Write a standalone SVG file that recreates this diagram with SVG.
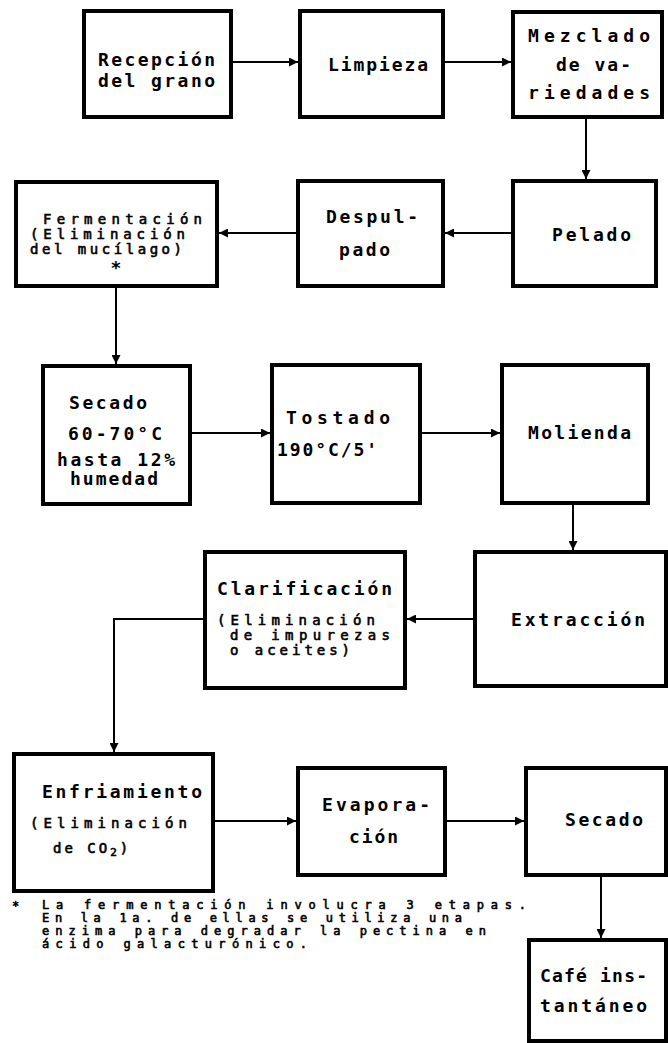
<svg xmlns="http://www.w3.org/2000/svg" width="668" height="1043" viewBox="0 0 668 1043">
  <style>
    .box { fill: #fff; stroke: #000; stroke-width: 4; }
    .wire { fill: none; stroke: #000; stroke-width: 2; }
    .lbl { font-family: "DejaVu Sans Mono", "Liberation Mono", monospace; font-size: 18px; font-weight: bold; fill: #000; }
    .sub { font-family: "DejaVu Sans Mono", "Liberation Mono", monospace; font-size: 14px; font-weight: normal; fill: #000; stroke: #000; stroke-width: 0.6; }
    .note { font-family: "DejaVu Sans Mono", "Liberation Mono", monospace; font-size: 12px; font-weight: normal; fill: #000; stroke: #000; stroke-width: 0.6; }
  </style>
  <defs>
    <marker id="head" viewBox="0 0 10 10" refX="10" refY="5" markerWidth="10" markerHeight="9" markerUnits="userSpaceOnUse" orient="auto">
      <path d="M0,0 L10,5 L0,10 z" fill="#000"/>
    </marker>
  </defs>
  <rect width="668" height="1043" fill="#fff"/>

  <!-- connectors -->
  <g id="connectors">
    <line class="wire" x1="231" y1="62" x2="298" y2="62" marker-end="url(#head)"/>
    <line class="wire" x1="443" y1="62" x2="511" y2="62" marker-end="url(#head)"/>
    <line class="wire" x1="586" y1="117" x2="586" y2="179" marker-end="url(#head)"/>
    <line class="wire" x1="513" y1="233" x2="445" y2="233" marker-end="url(#head)"/>
    <line class="wire" x1="298" y1="233" x2="219" y2="233" marker-end="url(#head)"/>
    <line class="wire" x1="116" y1="286" x2="116" y2="364" marker-end="url(#head)"/>
    <line class="wire" x1="190" y1="433" x2="270" y2="433" marker-end="url(#head)"/>
    <line class="wire" x1="420" y1="433" x2="500" y2="433" marker-end="url(#head)"/>
    <line class="wire" x1="573" y1="503" x2="573" y2="550" marker-end="url(#head)"/>
    <line class="wire" x1="475" y1="619" x2="407" y2="619" marker-end="url(#head)"/>
    <polyline class="wire" points="205,619 114,619 114,752" marker-end="url(#head)"/>
    <line class="wire" x1="213" y1="821" x2="296" y2="821" marker-end="url(#head)"/>
    <line class="wire" x1="445" y1="821" x2="524" y2="821" marker-end="url(#head)"/>
    <line class="wire" x1="601" y1="875" x2="601" y2="938" marker-end="url(#head)"/>
  </g>

  <!-- process steps -->
  <g id="recepcion">
    <rect class="box" x="84" y="11" width="147" height="106"/>
    <text class="lbl" x="98" y="66" textLength="117" lengthAdjust="spacing">Recepción</text>
    <text class="lbl" x="98" y="87" textLength="117" lengthAdjust="spacing">del grano</text>
  </g>
  <g id="limpieza">
    <rect class="box" x="300" y="11" width="143" height="106"/>
    <text class="lbl" x="328" y="71" textLength="100" lengthAdjust="spacing">Limpieza</text>
  </g>
  <g id="mezclado">
    <rect class="box" x="513" y="12" width="149" height="105"/>
    <text class="lbl" x="528" y="42" textLength="122" lengthAdjust="spacing">Mezclado</text>
    <text class="lbl" x="556" y="71" textLength="75" lengthAdjust="spacing">de va-</text>
    <text class="lbl" x="528" y="99" textLength="122" lengthAdjust="spacing">riedades</text>
  </g>
  <g id="pelado">
    <rect class="box" x="513" y="181" width="143" height="105"/>
    <text class="lbl" x="552" y="241" textLength="79" lengthAdjust="spacing">Pelado</text>
  </g>
  <g id="despulpado">
    <rect class="box" x="298" y="181" width="145" height="105"/>
    <text class="lbl" x="326" y="223" textLength="92" lengthAdjust="spacing">Despul-</text>
    <text class="lbl" x="339" y="256" textLength="51" lengthAdjust="spacing">pado</text>
  </g>
  <g id="fermentacion">
    <rect class="box" x="16" y="182" width="201" height="104"/>
    <text class="sub" x="43" y="224" textLength="159" lengthAdjust="spacing" font-weight="bold" stroke-width="0">Fermentación</text>
    <text class="sub" x="30" y="239" textLength="155" lengthAdjust="spacing">(Eliminación</text>
    <text class="sub" x="30" y="254" textLength="152" lengthAdjust="spacing">del mucílago)</text>
    <text class="lbl" x="116" y="274" text-anchor="middle">*</text>
  </g>
  <g id="secado-grano">
    <rect class="box" x="43" y="366" width="147" height="138"/>
    <text class="lbl" x="69" y="409" textLength="78" lengthAdjust="spacing">Secado</text>
    <text class="lbl" x="68" y="440" textLength="94" lengthAdjust="spacing">60-70°C</text>
    <text class="lbl" x="57" y="466" font-size="15" textLength="118" lengthAdjust="spacing">hasta 12%</text>
    <text class="lbl" x="70" y="485" font-size="15" textLength="88" lengthAdjust="spacing">humedad</text>
  </g>
  <g id="tostado">
    <rect class="box" x="272" y="365" width="148" height="138"/>
    <text class="lbl" x="286" y="424" textLength="104" lengthAdjust="spacing">Tostado</text>
    <text class="lbl" x="277" y="456" textLength="100" lengthAdjust="spacing">190°C/5'</text>
  </g>
  <g id="molienda">
    <rect class="box" x="502" y="365" width="146" height="138"/>
    <text class="lbl" x="528" y="439" textLength="103" lengthAdjust="spacing">Molienda</text>
  </g>
  <g id="extraccion">
    <rect class="box" x="475" y="552" width="191" height="134"/>
    <text class="lbl" x="511" y="626" textLength="134" lengthAdjust="spacing">Extracción</text>
  </g>
  <g id="clarificacion">
    <rect class="box" x="205" y="552" width="200" height="136"/>
    <text class="lbl" x="217" y="595" textLength="175" lengthAdjust="spacing">Clarificación</text>
    <text class="sub" x="217" y="625" textLength="158" lengthAdjust="spacing">(Eliminación</text>
    <text class="sub" x="230" y="640" textLength="160" lengthAdjust="spacing">de impurezas</text>
    <text class="sub" x="230" y="655" textLength="120" lengthAdjust="spacing">o aceites)</text>
  </g>
  <g id="enfriamiento">
    <rect class="box" x="14" y="754" width="199" height="137"/>
    <text class="lbl" x="42" y="798" textLength="160" lengthAdjust="spacing">Enfriamiento</text>
    <text class="sub" x="30" y="828" font-size="16" textLength="157" lengthAdjust="spacing">(Eliminación</text>
    <text class="sub" x="53" y="853" font-size="16" letter-spacing="3">de CO<tspan font-size="11" dy="3">2</tspan><tspan dy="-3">)</tspan></text>
  </g>
  <g id="evaporacion">
    <rect class="box" x="298" y="768" width="147" height="107"/>
    <text class="lbl" x="322" y="811" textLength="108" lengthAdjust="spacing">Evapora-</text>
    <text class="lbl" x="349" y="843" textLength="49" lengthAdjust="spacing">ción</text>
  </g>
  <g id="secado-extracto">
    <rect class="box" x="526" y="768" width="140" height="107"/>
    <text class="lbl" x="565" y="826" textLength="78" lengthAdjust="spacing">Secado</text>
  </g>
  <g id="cafe">
    <rect class="box" x="529" y="940" width="137" height="101"/>
    <text class="lbl" x="540" y="982" textLength="107" lengthAdjust="spacing">Café ins-</text>
    <text class="lbl" x="540" y="1012" textLength="107" lengthAdjust="spacing">tantáneo</text>
  </g>

  <!-- footnote -->
  <g id="nota">
    <text class="note" x="12" y="910" font-size="14" font-weight="bold">*</text>
    <text class="note" x="42" y="909" textLength="484" lengthAdjust="spacing">La fermentación involucra 3 etapas.</text>
    <text class="note" x="42" y="922" textLength="420" lengthAdjust="spacing">En la 1a. de ellas se utiliza una</text>
    <text class="note" x="42" y="935" textLength="444" lengthAdjust="spacing">enzima para degradar la pectina en</text>
    <text class="note" x="42" y="948" textLength="265" lengthAdjust="spacing">ácido galacturónico.</text>
  </g>
</svg>
